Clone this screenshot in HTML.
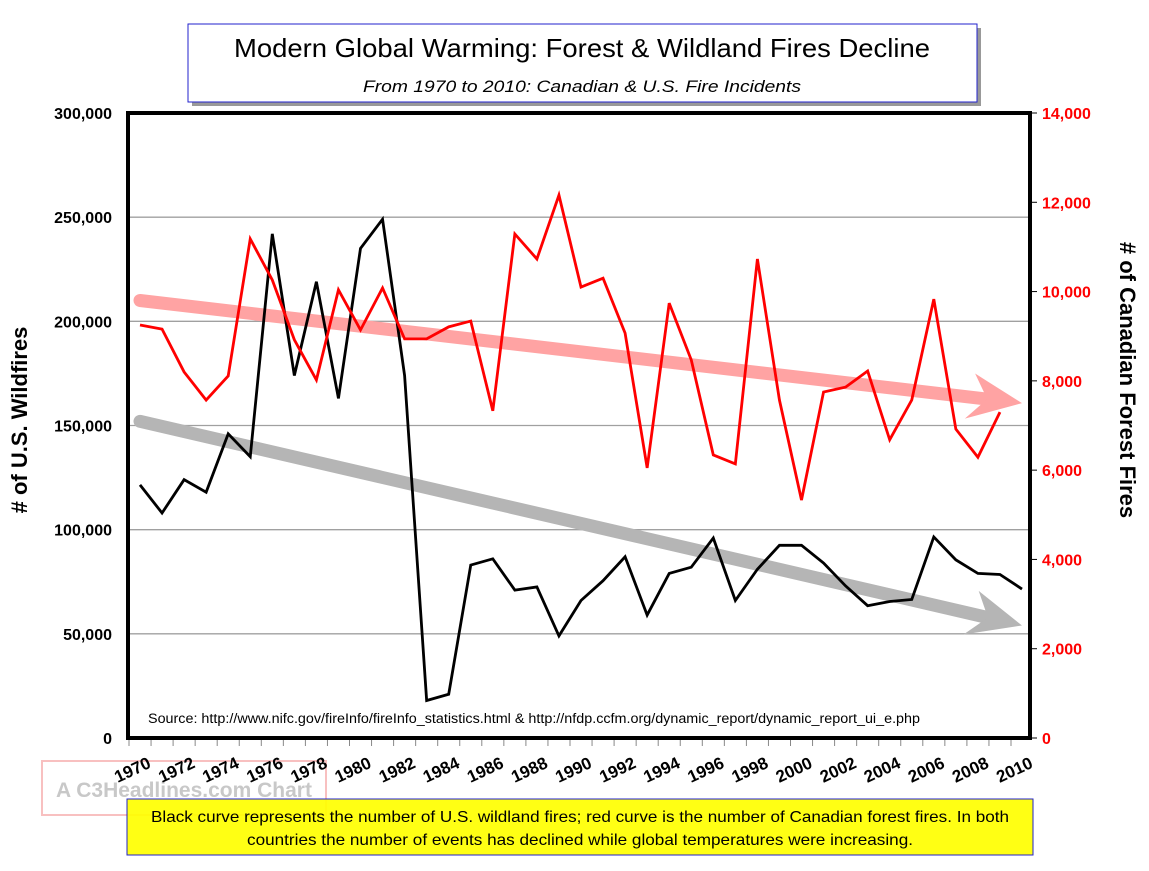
<!DOCTYPE html>
<html><head><meta charset="utf-8"><style>
body{margin:0;background:#fff;width:1149px;height:866px;overflow:hidden;font-family:"Liberation Sans",sans-serif}
svg text{font-family:"Liberation Sans",sans-serif}
</style></head><body>
<svg id="chart" width="1149" height="866">
<rect x="192" y="28" width="789" height="78" fill="#999"/>
<rect x="188" y="24" width="789" height="78" fill="#fff" stroke="#2222cc" stroke-width="1"/>
<text x="582" y="57" text-anchor="middle" font-size="26" textLength="696" lengthAdjust="spacingAndGlyphs">Modern Global Warming: Forest &amp; Wildland Fires Decline</text>
<text x="582" y="92" text-anchor="middle" font-size="17" font-style="italic" textLength="438" lengthAdjust="spacingAndGlyphs">From 1970 to 2010: Canadian &amp; U.S. Fire Incidents</text>
<g id="grid"></g>
<g id="lines"></g>
<rect x="128" y="113" width="902" height="625" fill="none" stroke="#000" stroke-width="4"/>
<text x="148" y="723" font-size="13.5" textLength="772" lengthAdjust="spacingAndGlyphs">Source: http://www.nifc.gov/fireInfo/fireInfo_statistics.html  &amp;  http://nfdp.ccfm.org/dynamic_report/dynamic_report_ui_e.php</text>
<text transform="translate(27,420) rotate(-90)" text-anchor="middle" font-size="22" font-weight="bold">
# of U.S. Wildfires</text>
<text transform="translate(1120,380) rotate(90)" text-anchor="middle" font-size="22" font-weight="bold"># of Canadian Forest Fires</text>
<rect x="42" y="761" width="284" height="54" fill="none" stroke="#f8c0c0" stroke-width="2"/>
<text x="184" y="797" text-anchor="middle" font-size="21" font-weight="bold" fill="#c8c8c8">A C3Headlines.com Chart</text>
<g id="xlabels"></g>
<rect x="127" y="799" width="906" height="56" fill="#ffff00" fill-opacity="0.92" stroke="#2222cc" stroke-width="1"/>
<text x="580" y="822" text-anchor="middle" font-size="16" textLength="858" lengthAdjust="spacingAndGlyphs">Black curve represents the number of U.S. wildland fires; red curve is the number of Canadian forest fires. In both</text>
<text x="580" y="845" text-anchor="middle" font-size="16" textLength="666" lengthAdjust="spacingAndGlyphs">countries the number of events has declined while global temperatures were increasing.</text>
</svg>
<script>
const years=[1970,1971,1972,1973,1974,1975,1976,1977,1978,1979,1980,1981,1982,1983,1984,1985,1986,1987,1988,1989,1990,1991,1992,1993,1994,1995,1996,1997,1998,1999,2000,2001,2002,2003,2004,2005,2006,2007,2008,2009,2010];
const usFires=[121500,108000,124000,118000,146000,135000,242000,174000,219000,163000,235000,249000,174000,18000,21000,83000,86000,71000,72500,49000,66000,75500,87000,59000,79000,82000,96000,66000,81000,92500,92500,84000,73000,63500,65500,66500,96500,85500,79000,78500,71500];
const canYears=[1970,1971,1972,1973,1974,1975,1976,1977,1978,1979,1980,1981,1982,1983,1984,1985,1986,1987,1988,1989,1990,1991,1992,1993,1994,1995,1996,1997,1998,1999,2000,2001,2002,2003,2004,2005,2006,2007,2008,2009];
const canFires=[9250,9160,8200,7570,8110,11180,10260,8920,8020,10040,9140,10080,8940,8940,9210,9340,7330,11290,10730,12160,10100,10300,9070,6050,9740,8470,6340,6140,10730,7570,5330,7750,7860,8220,6680,7570,9830,6920,6290,7300];
const leftTicks=[0,50000,100000,150000,200000,250000,300000];
const rightTicks=[0,2000,4000,6000,8000,10000,12000,14000];
const usTrend=[152000,54000];
const canTrend=[9800,7500];
const NS='http://www.w3.org/2000/svg';
const X0=140,X1=1022,Y0=738,Y1=113;
const x=yr=>X0+(yr-1970)*(X1-X0)/40;
const yL=v=>Y0-v/300000*(Y0-Y1);
const yR=v=>Y0-v/14000*(Y0-Y1);
function mk(tag,attrs,parent){const e=document.createElementNS(NS,tag);for(const k in attrs)e.setAttribute(k,attrs[k]);parent.appendChild(e);return e;}
const grid=document.getElementById('grid'),lines=document.getElementById('lines'),xl=document.getElementById('xlabels');
leftTicks.forEach(t=>{
 if(t>0&&t<300000){const g=mk('line',{x1:128,x2:1030,y1:yL(t),y2:yL(t),stroke:'#a0a0a0','stroke-width':1.3},grid);
 
 }
 const tx=mk('text',{x:112,y:yL(t)+6,'text-anchor':'end','font-size':16,'font-weight':'bold'},grid);
 
 
 tx.textContent=t.toLocaleString('en-US');
});
rightTicks.forEach(t=>{
 const tx=mk('text',{x:1042,y:yR(t)+6,'font-size':16,'font-weight':'bold',fill:'#ff0000'},grid);
 
 
 tx.textContent=t.toLocaleString('en-US');
 const tk=mk('line',{x1:1030,x2:1037,y1:yR(t),y2:yR(t),stroke:'#000','stroke-width':1},grid);
 
 
});
years.forEach(yr=>{
 const tk=mk('line',{x1:x(yr)-11,x2:x(yr)-11,y1:738,y2:746,stroke:'#888','stroke-width':1},grid);
 
 
 if(yr%2===0){const t=mk('text',{transform:`translate(${x(yr)+12},${767}) rotate(-25)`,'text-anchor':'end','font-size':17,'font-weight':'bold'},xl);
 
 
 t.textContent=yr;}
});
function arrow(v0,v1,yf,color,name){
 const xa=x(1970),xb=x(2010),ya=yf(v0),yb=yf(v1);
 const ang=Math.atan2(yb-ya,xb-xa),L=Math.hypot(xb-xa,yb-ya);
 const g=mk('g',{transform:`translate(${xa},${ya}) rotate(${ang*180/Math.PI})`},lines);
 
 
 mk('line',{x1:0,y1:0,x2:L-30,y2:0,stroke:color,'stroke-width':13,'stroke-linecap':'round'},g);
 mk('polygon',{points:`${L-50},-24 ${L},0 ${L-55},22 ${L-35},0`,fill:color},g);
}
arrow(canTrend[0],canTrend[1],yR,'#ffa3a3','canada-trend-arrow');
arrow(usTrend[0],usTrend[1],yL,'#b5b5b5','us-trend-arrow');
const pUS=mk('polyline',{points:years.map((yr,i)=>x(yr)+','+yL(usFires[i])).join(' '),fill:'none',stroke:'#000','stroke-width':2.8,'stroke-linejoin':'miter'},lines);


const pC=mk('polyline',{points:canYears.map((yr,i)=>x(yr)+','+yR(canFires[i])).join(' '),fill:'none',stroke:'#ff0000','stroke-width':2.8},lines);


</script>
</body></html>
